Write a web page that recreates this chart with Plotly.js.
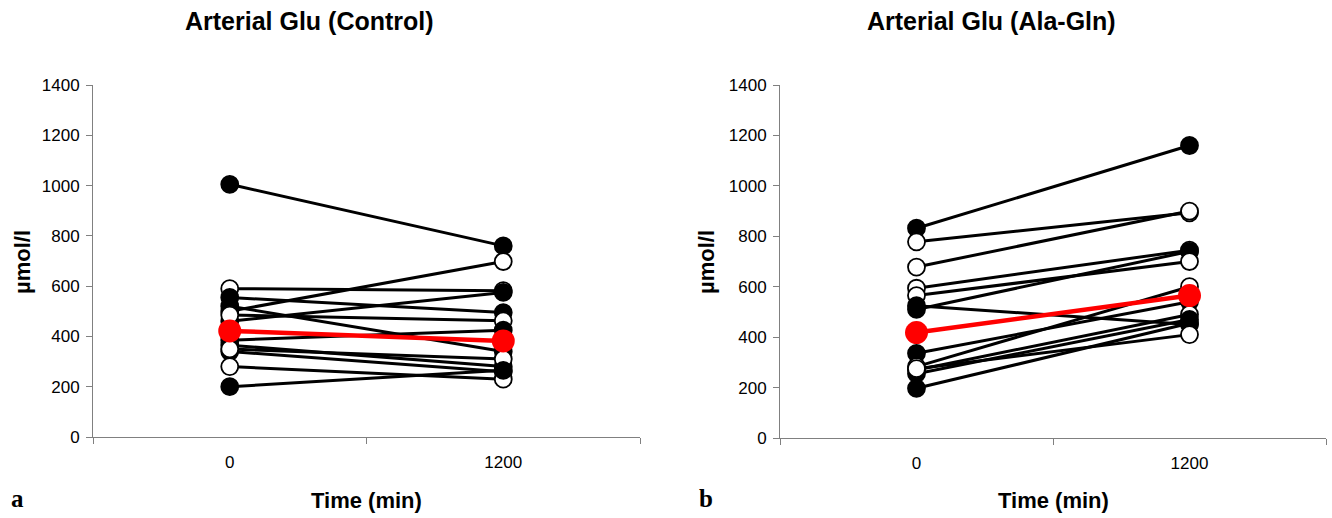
<!DOCTYPE html>
<html>
<head>
<meta charset="utf-8">
<script src="https://cdn.plot.ly/plotly-3.0.1.min.js"></script>
<style>html,body{margin:0;padding:0;background:#fff;}#chart{width:1332px;height:518px;}</style>
</head>
<body>
<div id="chart"></div>
<script>
// Time categories
const times = ["0", "1200"];
const yTicks = [0, 200, 400, 600, 800, 1000, 1200, 1400];

// Panel a: Control (values at 0 and 1200 min, filled = black marker)
const ctrlT0     = [1005, 590, 555, 500, 520, 460, 485, 385, 365, 340, 350, 280, 200];
const ctrlT1     = [760, 582, 495, 698, 340, 575, 462, 425, 280, 260, 310, 230, 265];
const ctrlFilled = [true, false, true, false, true, true, false, true, true, true, false, false, true];
const ctrlMean   = [422, 382];

// Panel b: Ala-Gln
const alaT0     = [832, 778, 678, 594, 510, 565, 525, 336, 283, 270, 255, 197, 275];
const alaT1     = [1160, 893, 900, 745, 740, 700, 450, 540, 600, 490, 470, 455, 410];
const alaFilled = [true, false, false, false, true, false, true, true, false, false, true, true, false];
const alaMean   = [418, 565];

const W = 1332, H = 518;
const px = v => v / W;
const py = v => 1 - v / H;

function panelTraces(t0, t1, filled, mean, xa, ya) {
  const tr = [];
  for (let i = 0; i < t0.length; i++) {
    tr.push({
      x: times, y: [t0[i], t1[i]], xaxis: xa, yaxis: ya,
      type: 'scatter', mode: 'lines+markers', showlegend: false, hoverinfo: 'y',
      line: {color: '#000', width: 3},
      marker: {size: 17, symbol: 'circle', color: filled[i] ? '#000' : '#fff',
               line: {color: '#000', width: 1.8}}
    });
  }
  tr.push({
    x: times, y: mean, xaxis: xa, yaxis: ya,
    type: 'scatter', mode: 'lines+markers', showlegend: false, hoverinfo: 'y',
    line: {color: '#ff0000', width: 4.5},
    marker: {size: 23, symbol: 'circle', color: '#ff0000', line: {color: '#ff0000', width: 0}}
  });
  return tr;
}

const data = [
  ...panelTraces(ctrlT0, ctrlT1, ctrlFilled, ctrlMean, 'x', 'y'),
  ...panelTraces(alaT0, alaT1, alaFilled, alaMean, 'x2', 'y2')
];

const tickFont = {family: 'Liberation Sans, Arial, sans-serif', size: 17, color: '#000'};
function xAxis(domain, anchor) {
  return {
    domain: domain, anchor: anchor, type: 'category', range: [-0.5, 1.5],
    tickson: 'boundaries', ticks: 'outside', ticklen: 6, tickcolor: '#808080', tickwidth: 1,
    showline: true, linecolor: '#808080', linewidth: 1, showgrid: false, zeroline: false,
    tickfont: tickFont, ticklabelstandoff: 10, fixedrange: true
  };
}
function yAxis(domain, anchor) {
  return {
    domain: domain, anchor: anchor, range: [0, 1400], tickvals: yTicks,
    ticks: 'outside', ticklen: 6, tickcolor: '#808080', tickwidth: 1,
    showline: true, linecolor: '#808080', linewidth: 1, showgrid: false, zeroline: false,
    tickfont: tickFont, ticklabelstandoff: 3, fixedrange: true
  };
}

const bold = {family: 'Liberation Sans, Arial, sans-serif', color: '#000'};
function ann(text, x, y, size, extra) {
  return Object.assign({
    text: text, xref: 'paper', yref: 'paper', x: px(x), y: py(y),
    xanchor: 'center', yanchor: 'middle', showarrow: false,
    font: Object.assign({}, bold, {size: size})
  }, extra || {});
}
const serif = {family: 'Liberation Serif, Times New Roman, serif', size: 25, color: '#000'};

const layout = {
  width: W, height: H,
  margin: {l: 0, r: 0, t: 0, b: 0},
  paper_bgcolor: '#fff', plot_bgcolor: '#fff',
  xaxis: xAxis([px(93), px(640)], 'y'),
  yaxis: yAxis([py(437), py(85)], 'x'),
  xaxis2: xAxis([px(780), px(1326)], 'y2'),
  yaxis2: yAxis([py(438), py(85)], 'x2'),
  annotations: [
    ann('<b>Arterial Glu (Control)</b>', 309, 21, 25),
    ann('<b>Arterial Glu (Ala-Gln)</b>', 991, 21, 25),
    ann('<b>µmol/l</b>', 22, 262, 22, {textangle: -90}),
    ann('<b>µmol/l</b>', 706, 262, 22, {textangle: -90}),
    ann('<b>Time (min)</b>', 366, 500, 22),
    ann('<b>Time (min)</b>', 1053, 500, 22),
    ann('<b>a</b>', 17, 498, 25, {font: serif}),
    ann('<b>b</b>', 706, 498, 25, {font: serif})
  ]
};

Plotly.newPlot('chart', data, layout, {displayModeBar: false, staticPlot: true});
</script>
</body>
</html>
